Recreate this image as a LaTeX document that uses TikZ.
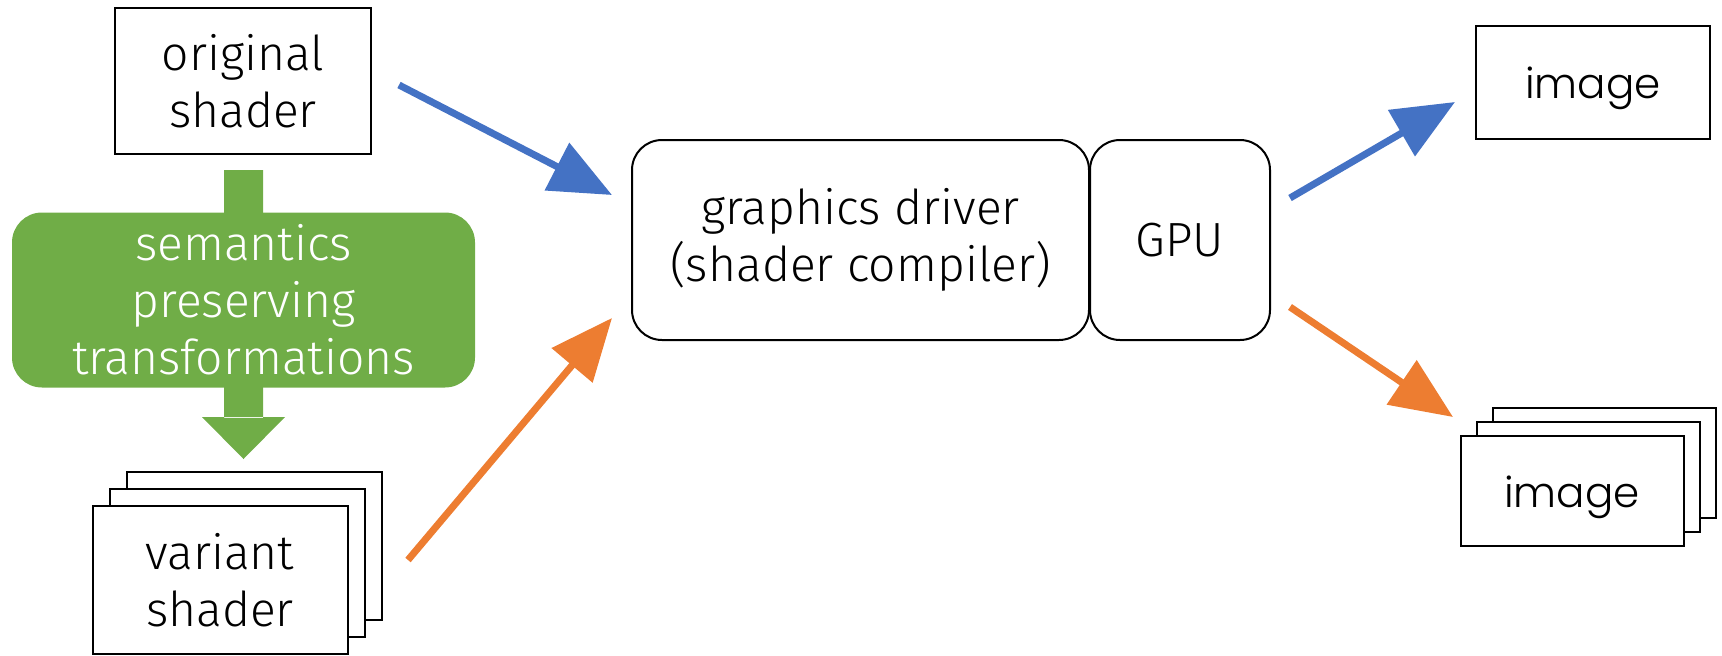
\documentclass[tikz,border=0pt]{standalone}
\usepackage{fontspec}
\setmainfont{Fira Sans}[UprightFont=* Light]
\newfontfamily\imgfont{Poppins}[UprightFont=* Light]
\usetikzlibrary{arrows.meta}
\definecolor{flowblue}{HTML}{4472C4}
\definecolor{floworange}{HTML}{ED7D31}
\definecolor{stepgreen}{HTML}{70AD47}
\begin{document}
\begin{tikzpicture}[x=1pt,y=-1pt,
  box/.style={draw=black, line width=2pt, fill=white, inner sep=0pt,
    align=center, font=\fontsize{48}{57}\selectfont},
  rbox/.style={box, rounded corners=30pt},
  imgbox/.style={box, font=\imgfont\fontsize{42}{50}\selectfont,
    text height=33pt, text depth=0pt},
  flow/.style={line width=7pt, -{Triangle[length=62pt,width=52pt]}},
]
\useasboundingbox (0,0) rectangle (1722,656);

% source shader
\node[box, minimum width=256pt, minimum height=146pt] (orig) at (243,81) {original\\shader};

% green block arrow behind the transformation box
\fill[stepgreen] (224,170) rectangle (263,418) (202,417) -- (285,417) -- (243.5,459) -- cycle;
\node[rbox, draw=none, fill=stepgreen, text=white, minimum width=463pt, minimum height=175pt,
  rounded corners=30pt] (xform) at (243.5,300) {semantics\\preserving\\transformations};

% stack of variant shaders
\node[box, minimum width=255pt, minimum height=148pt] (var3) at (254,546) {};
\node[box, minimum width=255pt, minimum height=148pt] (var2) at (237,563) {};
\node[box, minimum width=255pt, minimum height=148pt] (var) at (220,580) {variant\\shader};

% driver and GPU
\node[rbox, minimum width=457pt, minimum height=200pt] (drv) at (860.5,240) {graphics driver\\(shader compiler)};
\node[rbox, minimum width=180pt, minimum height=200pt] (gpu) at (1180,240) {GPU};

% output images
\node[imgbox, minimum width=234pt, minimum height=113pt] (img) at (1593,82) {image};
\node[imgbox, minimum width=223pt, minimum height=110pt] (imgs3) at (1604,463) {};
\node[imgbox, minimum width=223pt, minimum height=110pt] (imgs2) at (1588,477) {};
\node[imgbox, minimum width=223pt, minimum height=110pt] (imgs) at (1572,491) {image};

% connectors
\coordinate (o1) at (399,85);   \coordinate (d1) at (612,195);
\coordinate (v1) at (408,560);  \coordinate (d2) at (612,318);
\coordinate (g1) at (1290,198); \coordinate (i1) at (1455,102);
\coordinate (g2) at (1290,307); \coordinate (i2) at (1453,417);
\draw[flow, flowblue] (o1) -- (d1);
\draw[flow, floworange] (v1) -- (d2);
\draw[flow, flowblue] (g1) -- (i1);
\draw[flow, floworange] (g2) -- (i2);
\end{tikzpicture}
\end{document}
